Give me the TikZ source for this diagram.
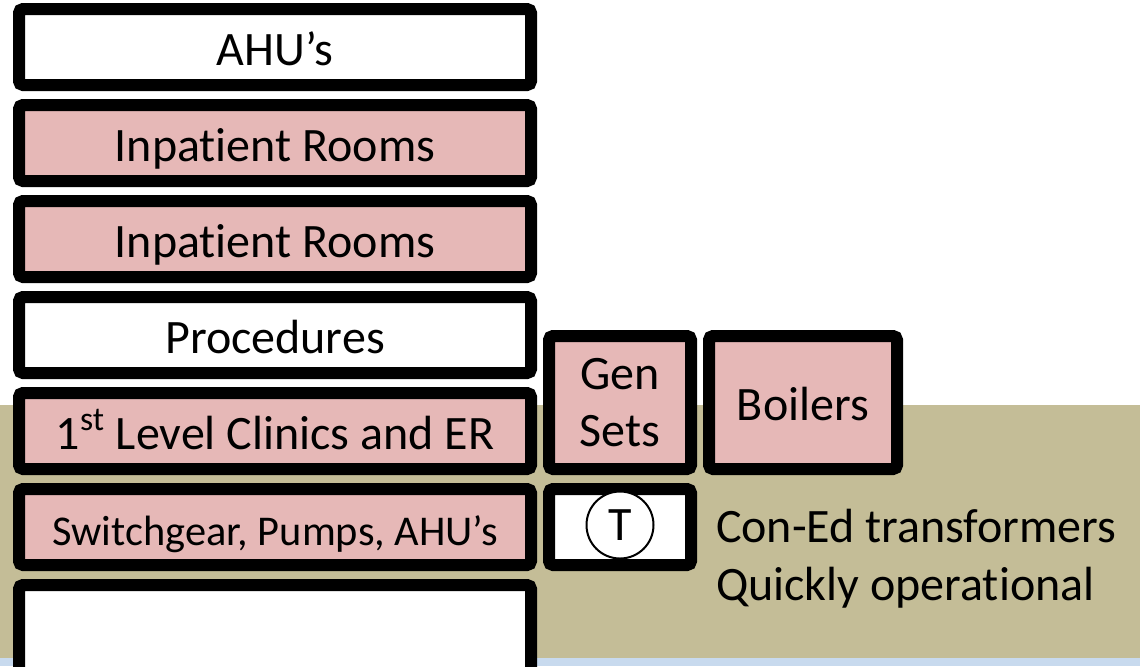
\documentclass[tikz,border=0pt]{standalone}
\usepackage{fontspec}
\setmainfont{Carlito}[Ligatures={TeX,NoCommon}]
\usetikzlibrary{positioning}
\usepackage{xcolor}
\definecolor{vpink}{RGB}{230,184,183}
\definecolor{vkhaki}{RGB}{196,189,151}
\definecolor{vsky}{RGB}{200,218,238}

\begin{document}
\begin{tikzpicture}[x=0.5pt,y=-0.5pt,every node/.style={draw,line width=6pt,rounded corners=2pt,align=center,outer sep=0pt,inner sep=0pt,font=\fontsize{24}{28.5}\selectfont},
    oneline/.style={text height=21pt,text depth=3pt},
    floor/.style={oneline,minimum width=256pt,minimum height=38pt}]
    \useasboundingbox (0,0) rectangle (1140,666);
    % ground and water
    \fill[vkhaki] (0,405) rectangle (1140,658);
    \fill[vsky] (0,658) rectangle (1140,666);
    % the building, top down
    \node[floor,fill=white] (ahu) at (275,47) {AHU's};
    \node[floor,fill=vpink,below=10pt of ahu] (inpa) {Inpatient Rooms};
    \node[floor,fill=vpink,below=10pt of inpa] (inpb) {Inpatient Rooms};
    \node[floor,fill=white,below=10pt of inpb] (proc) {Procedures};
    \node[floor,fill=vpink,below=10pt of proc] (clin) {1\textsuperscript{st} Level Clinics and ER};
    \node[floor,fill=vpink,below=10pt of clin,font=\fontsize{21.2}{25}\selectfont] (swgr) {Switchgear, Pumps, AHU's};
    \node[floor,fill=white,below=10pt of swgr,minimum height=46pt] (base) {};
    % plant beside it
    \node[fill=vpink,minimum width=71pt,minimum height=66.5pt,right=9pt of clin.south east,anchor=south west] (gen) {Gen\\Sets};
    \node[oneline,fill=vpink,minimum width=94pt,minimum height=66.5pt,right=9pt of gen] (boil) {Boilers};
    \node[fill=white,minimum width=71pt,minimum height=38pt,right=9pt of swgr] (trf) {};
    \node[circle,line width=1pt,minimum size=33.5pt,fill=white] (tcirc) at ([yshift=1pt]trf) {T};
    \node[draw=none,align=left,anchor=west,font=\fontsize{24}{29}\selectfont] (coned) at (716,559) {Con-Ed transformers\\Quickly operational};
\end{tikzpicture}
\end{document}
